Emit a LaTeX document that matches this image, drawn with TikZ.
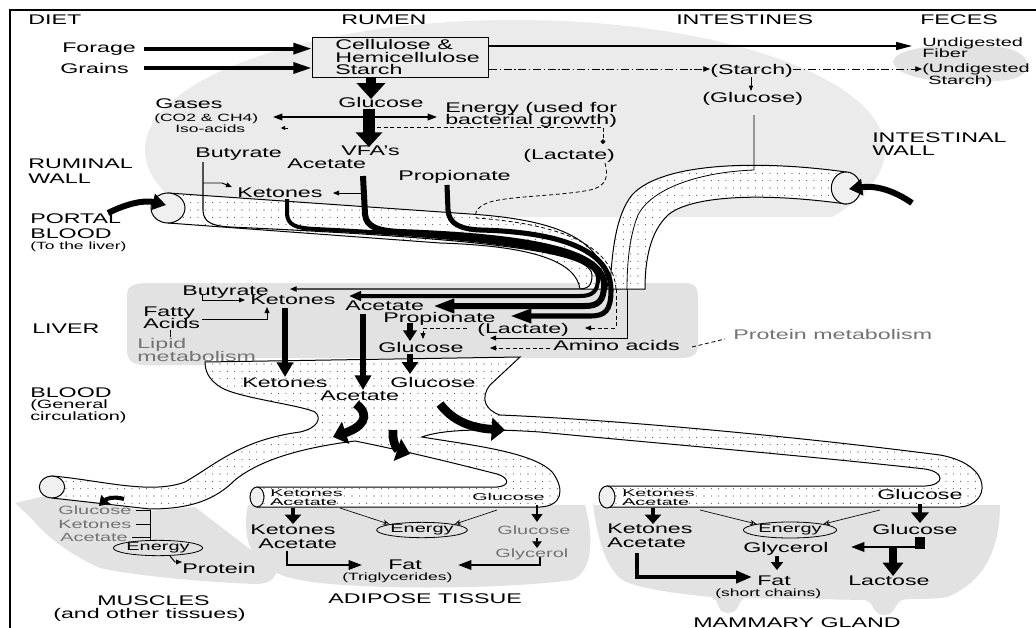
\documentclass[tikz,border=0pt]{standalone}
\usepackage{fontspec}
\setmainfont[FakeStretch=1.66]{Liberation Sans}
\newfontfamily\widesf[FakeStretch=2.0]{Liberation Sans}
\usetikzlibrary{arrows.meta,patterns.meta,shapes.geometric}
\newcommand\fsA{\fontsize{10.5}{12}\selectfont}
\newcommand\fsB{\fontsize{9}{10.5}\selectfont}
\newcommand\fsC{\fontsize{7.9}{9}\selectfont}
\newcommand\fsW{\widesf\fontsize{7.4}{8}\selectfont}
\definecolor{tisgray}{gray}{0.885}
\definecolor{wmgray}{gray}{0.92}
\begin{document}
\begin{tikzpicture}[x=0.75pt,y=-0.75pt,
  t/.style={anchor=base west, inner sep=0pt, font=\fsA},
  tm/.style={anchor=base west, inner sep=0pt, font=\fsB},
  ts/.style={anchor=base west, inner sep=0pt, font=\fsC},
  tw/.style={anchor=base west, inner sep=0pt, font=\fsW},
  gt/.style={text=black!55},
  tis/.style={fill=tisgray, draw=none},
  vessel/.style={draw=black, line width=0.75pt, preaction={fill=white}, pattern={Dots[distance=5.5pt,radius=0.4pt]}, pattern color=black!80},
  opening/.style={draw=black, line width=0.75pt, fill=black!6},
  thinarr/.style={line width=0.7pt, -{Triangle[length=4.5pt,width=3.6pt]}},
  dsh/.style={line width=0.6pt, dash pattern=on 3pt off 2pt},
  dashdot/.style={line width=0.6pt, dash pattern=on 6pt off 2pt on 1pt off 2pt},
  energy/.style={draw, ellipse, line width=0.6pt, inner sep=0pt, font=\fsB},
  blockarr/.style={line width=#1, -{Triangle[length=10pt,width=17pt]}},
]
\useasboundingbox (0,0) rectangle (1036,628);

% ---------- background shading ----------
\begin{scope}
\clip (140,12) rectangle (900,216);
\fill[wmgray] (515,150) ellipse [x radius=370, y radius=-130];
\end{scope}
\fill[tisgray] (893,62) .. controls (895,45) and (960,42) .. (1000,47) .. controls (1036,52) and (1034,76) .. (1008,80) .. controls (960,85) and (898,82) .. (893,62) -- cycle;
% liver
\fill[tisgray] (127,295) .. controls (127,285) and (135,283) .. (150,283) -- (685,283) .. controls (697,283) and (698,290) .. (698,300) -- (698,345) .. controls (698,355) and (692,358) .. (680,358) -- (205,358) -- (205,365) -- (145,365) .. controls (132,365) and (127,360) .. (127,350) -- cycle;
% muscles
\fill[tisgray] (15,503) -- (45,496) -- (150,511) -- (195,507) -- (277,570) .. controls (275,580) and (268,584) .. (255,584) .. controls (200,582) and (130,575) .. (100,568) .. controls (70,555) and (45,535) .. (33,520) -- cycle;
% adipose
\fill[tisgray] (248,505) -- (585,505) .. controls (592,530) and (596,570) .. (572,580) .. controls (500,590) and (350,590) .. (300,580) .. controls (255,572) and (240,545) .. (248,505) -- cycle;
% mammary
\fill[tisgray] (593,505) -- (1000,505) .. controls (1000,540) and (990,580) .. (947,597) .. controls (930,600) and (910,598) .. (902,600) .. controls (895,603) and (895,615) .. (885,615) .. controls (872,615) and (875,603) .. (865,600) -- (745,598) .. controls (738,600) and (740,613) .. (728,613) .. controls (716,613) and (720,600) .. (712,597) .. controls (680,594) and (630,588) .. (620,578) .. controls (605,565) and (598,540) .. (593,505) -- cycle;

% frame
\draw[line width=1.6pt] (10,628) -- (10,10) -- (1036,10);

% ---------- vessels ----------
\path[vessel] (168,193) -- (470,214) .. controls (560,220) and (604,240) .. (608,289) -- (580,289) .. controls (576,262) and (535,246) .. (440,243) -- (168,223) -- cycle;
\path[vessel] (846,172) .. controls (760,160) and (662,162) .. (632,195) .. controls (616,215) and (612,250) .. (610,289) -- (645,289) .. controls (645,260) and (650,232) .. (668,215) .. controls (690,196) and (760,192) .. (846,204) -- cycle;
\node[opening, ellipse, minimum width=25.5pt, minimum height=22.5pt] (portalopen) at (168,208) {};
\node[opening, ellipse, minimum width=22pt, minimum height=24pt] (intopen) at (846,188) {};

\path[vessel] (205,362) -- (520,357) -- (490,385) .. controls (480,398) and (485,410) .. (500,415)
 .. controls (620,420) and (800,437) .. (940,455) .. controls (995,465) and (990,505) .. (960,507)
 -- (607,507) -- (607,486) -- (925,486) .. controls (945,485) and (945,472) .. (925,469)
 .. controls (800,455) and (620,440) .. (540,432) .. controls (480,428) and (440,430) .. (422,437)
 .. controls (470,445) and (535,452) .. (553,473) .. controls (565,490) and (562,506) .. (540,507)
 -- (257,507) -- (257,487) -- (497,487) .. controls (510,486) and (510,478) .. (497,474)
 .. controls (450,462) and (400,450) .. (355,441)
 .. controls (300,448) and (260,460) .. (235,480) .. controls (215,500) and (190,509) .. (150,509)
 -- (52,498) -- (52,476)
 .. controls (100,480) and (150,495) .. (185,482) .. controls (215,465) and (240,440) .. (300,432)
 .. controls (318,428) and (322,418) .. (315,412)
 .. controls (300,405) and (240,398) .. (222,388) .. controls (208,380) and (205,370) .. (205,362) -- cycle;
\node[opening, ellipse, minimum width=19pt, minimum height=16.5pt] (musopen) at (52,487) {};
\node[opening, ellipse, minimum width=10.5pt, minimum height=15pt] (adiopen) at (257,497) {};
\node[opening, ellipse, minimum width=12pt, minimum height=16.5pt] (mamopen) at (607,497) {};

% ---------- texts: headers ----------
\node[t] (diet) at (28,25) {DIET};
\node[t] (rumen) at (341,25) {RUMEN};
\node[t] (intest) at (676,25) {INTESTINES};
\node[t] (feces) at (920,25) {FECES};
\node[t] (forage) at (62,52) {Forage};
\node[t] (grains) at (60,73) {Grains};
\node[draw, line width=0.75pt, fill=wmgray, anchor=north west, minimum width=132pt, minimum height=30pt, inner sep=0pt] (box) at (312,37) {};
\node[t] (cell1) at (335,49) {Cellulose \&};
\node[t] (cell2) at (335,62) {Hemicellulose};
\node[t] (cell3) at (335,74) {Starch};
\node[t] (istarch) at (710,74) {(Starch)};
\node[t] (iglu) at (702,102) {(Glucose)};
\node[tm] (undig1) at (922,46) {Undigested};
\node[tm] (undig2) at (922,57) {Fiber};
\node[tm] (undig3) at (922,72) {(Undigested};
\node[tm] (undig4) at (928,84) {Starch)};

% rumen
\node[t] (rglu) at (338,107) {Glucose};
\node[t] (gases) at (155,108) {Gases};
\node[ts] (co2) at (154,121) {(CO2 \& CH4)};
\node[ts] (iso) at (175,132) {Iso-acids};
\node[t] (energy1) at (445,112) {Energy (used for};
\node[t] (energy2) at (445,124) {bacterial growth)};
\node[t] (vfa) at (341,155) {VFA's};
\node[t] (racet) at (287,168) {Acetate};
\node[t] (rbut) at (195,157) {Butyrate};
\node[t] (rlact) at (523,159) {(Lactate)};
\node[t] (rprop) at (398,180) {Propionate};
\node[t] (rket) at (237,197) {Ketones};
\node[t] (ruminal) at (28,168) {RUMINAL};
\node[t] (wall1) at (28,183) {WALL};
\node[t] (portal) at (30,223) {PORTAL};
\node[t] (pblood) at (30,238) {BLOOD};
\node[ts] (tliver) at (30,249) {(To the liver)};
\node[t] (intwall1) at (872,142) {INTESTINAL};
\node[t] (intwall2) at (872,155) {WALL};

% liver
\node[t] (lbut) at (182,295) {Butyrate};
\node[t] (lket) at (250,304) {Ketones};
\node[t] (fatty) at (143,316) {Fatty};
\node[t] (acids) at (143,328) {Acids};
\node[t] (liver) at (32,333) {LIVER};
\node[t,gt] (lipid1) at (137,348) {Lipid};
\node[t,gt] (lipid2) at (137,361) {metabolism};
\node[t] (lacet) at (345,310.5) {Acetate};
\node[t] (lprop) at (383,322.5) {Propionate};
\node[t] (llact) at (477,333.5) {(Lactate)};
\node[t] (lglu) at (378,352) {Glucose};
\node[t] (amino) at (553,350) {Amino acids};
\node[t,gt] (protmet) at (733,339) {Protein metabolism};

% blood
\node[t] (blood) at (30,397) {BLOOD};
\node[tm] (gen1) at (30,408) {(General};
\node[tm] (gen2) at (30,420) {circulation)};
\node[t] (bket) at (242,387) {Ketones};
\node[t] (bacet) at (320,400) {Acetate};
\node[t] (bglu) at (390,387) {Glucose};

% muscles
\node[tm,gt] (mglu) at (58,514) {Glucose};
\node[tm,gt] (mket) at (58,528) {Ketones};
\node[tm,gt] (macet) at (60,541) {Acetate};
\node[energy, minimum width=64pt, minimum height=11.5pt] (men) at (158,548) {Energy};
\node[t] (mprot) at (182,573) {Protein};
\node[t] (muscles) at (97,605) {MUSCLES};
\node[t] (other) at (53,618) {(and other tissues)};

% adipose
\node[tw] (atket) at (270,496) {Ketones};
\node[tw] (atacet) at (270,505.5) {Acetate};
\node[tw] (atglu) at (472,500) {Glucose};
\node[t] (aket) at (250,534) {Ketones};
\node[t] (aacet) at (258,548) {Acetate};
\node[energy, minimum width=68pt, minimum height=11.5pt] (aen) at (422,530) {Energy};
\node[tm,gt] (aglu) at (497,534) {Glucose};
\node[tm,gt] (aglyc) at (495,557) {Glycerol};
\node[t] (afat) at (388,569) {Fat};
\node[ts] (trig) at (342,580) {(Triglycerides)};
\node[t] (adipose) at (328,603) {ADIPOSE TISSUE};

% mammary
\node[tw] (mtket) at (622,496) {Ketones};
\node[tw] (mtacet) at (622,505.5) {Acetate};
\node[t] (mtglu) at (877,499) {Glucose};
\node[t] (mmket) at (607,533) {Ketones};
\node[t] (mmacet) at (607,547) {Acetate};
\node[energy, minimum width=70pt, minimum height=12pt] (mmen) at (790,530) {Energy};
\node[t] (mmglu) at (872,534) {Glucose};
\node[t] (mmglyc) at (743,552) {Glycerol};
\node[t] (mmfat) at (757,585) {Fat};
\node[ts] (short) at (715,596) {(short chains)};
\node[t] (lactose) at (848,585) {Lactose};
\node[t] (mammary) at (693,627) {MAMMARY GLAND};

% ---------- diet / rumen arrows ----------
\draw[line width=3pt, -{Triangle[length=14pt,width=8pt]}] (forage.east) ++(8,0) coordinate (f0) -- (f0 -| box.west);
\draw[line width=3pt, -{Triangle[length=14pt,width=8pt]}] (grains.east) ++(15,0) coordinate (g0) -- (g0 -| box.west);
\coordinate (fib) at (912,46);
\draw[line width=1.1pt, -{Triangle[length=12pt,width=6pt]}] (box.east |- 0,46) -- (fib);
\draw[dashdot, -{Triangle[length=5pt,width=4pt]}] (box.east |- 0,69) -- (istarch.west |- 0,69);
\draw[dashdot, -{Triangle[length=5pt,width=4pt]}] (istarch.east |- 0,69) -- (undig3.west |- 0,69);
\draw[line width=0.6pt, -{Triangle[length=4pt,width=3pt]}] (751,77) -- (751,91);

\draw[blockarr=7pt, -{Triangle[length=12pt,width=21pt]}] (371,77) -- (371,99);
\draw[line width=1pt, {Triangle[length=7pt,width=5pt]}-{Triangle[length=7pt,width=5pt]}] (273,117) -- (437,117);
\draw[line width=0.6pt, -{Triangle[length=3pt,width=3pt]}] (288,128) -- (281,128);
\draw[blockarr=9pt, -{Triangle[length=11pt,width=19.5pt]}] (369,109) -- (369,147);
\draw[dsh, -{Circle[length=3.5pt]}] (377,127) -- (603,127) -- (603,144);

% lactate from rumen into portal blood
\draw[dsh] (605,163) .. controls (608,175) and (608,186) .. (590,190) .. controls (560,196) and (510,196) .. (490,202) .. controls (478,206) and (474,212) .. (476,218) .. controls (560,224) and (613,245) .. (616,289);
\draw[dsh, -{Triangle[length=4.5pt,width=3.6pt]}] (616,289) -- (616,328) -- (585,328);

% intestinal glucose into portal blood
\draw[line width=0.6pt] (754,115) -- (754,170) .. controls (700,172) and (652,188) .. (638,215) .. controls (630,235) and (627,260) .. (627,290);
\draw[thinarr] (627,290) -- (627,338) -- (490,338);

% ---------- absorption lines through the ruminal wall ----------
\draw[line width=0.8pt, -{Triangle[length=5pt,width=4pt]}] (203,162) -- (203,210) .. controls (203,222) and (212,226) .. (230,227) .. controls (520,240) and (592,255) .. (592,275) .. controls (592,286) and (588,289) .. (578,289) -- (290,289);
\draw[line width=3pt, -{Triangle[length=9pt,width=7pt]}] (287,199) -- (287,214) .. controls (288,225) and (295,228) .. (315,229) .. controls (525,239) and (598,255) .. (598,278) .. controls (598,291) and (593,296) .. (580,296) -- (349,296);
\draw[line width=4.5pt, -{Triangle[length=16pt,width=10pt]}] (363,176) -- (365,214) .. controls (366,227) and (378,231) .. (400,232) .. controls (535,237) and (604,252) .. (604,285) .. controls (604,301) and (598,306) .. (585,306) -- (433,306);
\draw[line width=3.8pt, -{Triangle[length=16pt,width=10pt]}] (447,185) -- (448,210) .. controls (449,224) and (460,229) .. (480,230) .. controls (560,232) and (611,250) .. (611,290) .. controls (611,311) and (605,316) .. (590,316) -- (510,316);
\draw[thinarr] (361,193) -- (333,193);
\draw[thinarr] (203,183) -- (222,183) -- (232,187);

% portal & intestinal inflow arrows
\draw[line width=4.5pt, -{Triangle[length=10pt,width=12pt]}] (108,213) .. controls (128,203) and (145,200) .. (166,205);
\draw[line width=4.5pt, -{Triangle[length=10pt,width=12pt]}] (912,203) .. controls (896,192) and (878,185) .. (849,189);

% ---------- liver ----------
\draw[thinarr] (202,295) -- (202,300) -- (245,300);
\draw[thinarr] (202,319) -- (267,319) -- (267,307);
\draw[line width=0.6pt] (170,330) -- (170,337);
\draw[line width=4.5pt, -{Triangle[length=8pt,width=10pt]}] (410,323) -- (410,341);
\draw[dsh, -{Triangle[length=4.5pt,width=3.6pt]}] (467,328) -- (423,328) -- (423,339);
\draw[dsh, -{Triangle[length=4.5pt,width=3.6pt]}] (550,348) -- (490,348);
\draw[dsh] (692,347) -- (725,339);
\draw[line width=4pt, -{Triangle[length=11pt,width=12pt]}] (285,308) -- (285,377);
\draw[line width=4pt, -{Triangle[length=11pt,width=12pt]}] (363,314) -- (363,390);
\draw[line width=4pt, -{Triangle[length=9pt,width=12pt]}] (410,354) -- (410,374);

% ---------- blood distribution arrows ----------
\draw[blockarr=6.5pt] (356,404) .. controls (372,416) and (362,428) .. (342,434) -- (333,437);
\draw[blockarr=6.5pt] (393,430) .. controls (392,444) and (398,450) .. (410,454);
\draw[blockarr=6.5pt] (440,404) .. controls (452,420) and (470,428) .. (505,430);
\draw[line width=3pt, -{Triangle[length=7pt,width=9pt]}] (124,499) .. controls (114,496) and (106,499) .. (99,506);

% ---------- muscles ----------
\draw[line width=0.6pt] (mglu.east |- 0,510) ++(4,0) -- (150,510);
\draw[line width=0.6pt] (mket.east |- 0,524) ++(4,0) -- (150,524);
\draw[line width=0.6pt] (macet.east |- 0,537) ++(4,0) -- (150,537);
\draw[line width=0.6pt] (150,510) -- (150,541);
\draw[thinarr] (170,556) -- (175,562) -- (182,562);

% ---------- adipose ----------
\draw[line width=3pt, -{Triangle[length=7pt,width=12pt]}] (293,508) -- (293,524);
\draw[line width=1.6pt, -{Triangle[length=10pt,width=7pt]}] (287,551) -- (287,565) -- (362,565);
\draw[line width=0.5pt, -{Stealth[length=5pt,width=4pt,open]}] (340,508) -- (aen.north west);
\draw[line width=0.5pt, -{Stealth[length=5pt,width=4pt,open]}] (497,510) -- (aen.north east);
\draw[line width=2pt, -{Triangle[length=6pt,width=8pt]}] (537,505) -- (537,522);
\draw[line width=2pt, -{Triangle[length=5pt,width=7pt]}] (537,538) -- (537,548);
\draw[line width=1.6pt, -{Triangle[length=10pt,width=7pt]}] (540,557) -- (540,565) -- (458,565);

% ---------- mammary ----------
\draw[line width=3pt, -{Triangle[length=7pt,width=12pt]}] (653,508) -- (653,524);
\draw[line width=3.5pt, -{Triangle[length=12pt,width=9pt]}] (637,553) -- (637,577) -- (752,577);
\draw[line width=0.5pt, -{Stealth[length=5pt,width=4pt,open]}] (700,510) -- (mmen.north west);
\draw[line width=0.5pt, -{Stealth[length=5pt,width=4pt,open]}] (880,510) -- (mmen.north east);
\draw[line width=3.5pt, -{Triangle[length=8pt,width=13pt]}] (920,504) -- (920,523);
\draw[line width=7pt] (920,537) -- (920,549);
\draw[line width=1.8pt, -{Triangle[length=10pt,width=7pt]}] (922,547) -- (851,547);
\draw[line width=6pt, -{Triangle[length=10pt,width=15pt]}] (893,547) -- (893,576);
\draw[line width=3pt, -{Triangle[length=6pt,width=9pt]}] (777,556) -- (777,570);

\end{tikzpicture}
\end{document}
